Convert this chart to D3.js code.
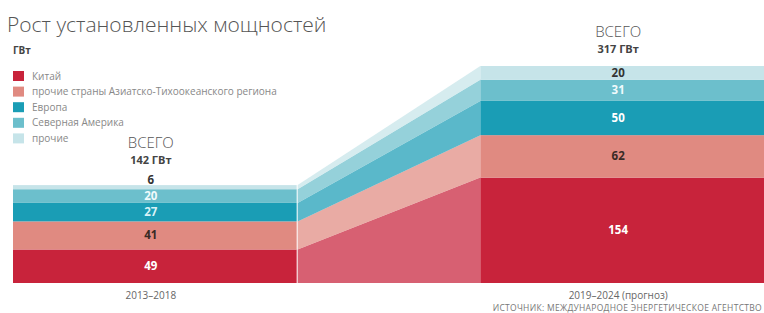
<!DOCTYPE html>
<html><head><meta charset="utf-8">
<script src="https://cdn.jsdelivr.net/npm/d3@7"></script>
<style>body{margin:0;background:#fff;} svg{display:block;font-family:"Open Sans","Noto Sans",sans-serif;}</style>
</head><body>
<script>
const periods = ["2013–2018", "2019–2024 (прогноз)"];
const series = ["Китай", "прочие страны Азиатско-Тихоокеанского региона", "Европа", "Северная Америка", "прочие"];
const values2013 = [49, 41, 27, 20, 6];
const values2019 = [154, 62, 50, 31, 20];
const totals = [142, 317];
const colors = ["#c8233b", "#e08a81", "#1a9db5", "#6cbfcc", "#c6e4e9"];
const labelColors2013 = ["#fff", "#3a2a25", "#d8f2f7", "#f0fafc", "#333"];
const labelColors2019 = ["#fff", "#3a2a25", "#fff", "#f0fafc", "#333"];

const W = 764, H = 313;
const svg = d3.select("body").append("svg").attr("width", W).attr("height", H);

const y = d3.scaleLinear().domain([0, 317]).range([283, 66]);
const x = d3.scaleBand().domain(periods).range([13, 764]).paddingInner(0.393).paddingOuter(0);

const data = periods.map((p, i) => {
  const o = {period: p};
  series.forEach((s, j) => o[s] = (i === 0 ? values2013 : values2019)[j]);
  return o;
});
const stacked = d3.stack().keys(series)(data);

// transition areas
const x0 = x(periods[0]) + x.bandwidth() + 1;
const x1 = x(periods[1]);
stacked.forEach((layer, j) => {
  const pts = [{x: x0, d: layer[0]}, {x: x1, d: layer[1]}];
  svg.append("path")
    .datum(pts)
    .attr("d", d3.area().x(d => d.x).y0(d => y(d.d[0])).y1(d => y(d.d[1])))
    .attr("fill", colors[j]).attr("opacity", 0.72);
});

// bars
stacked.forEach((layer, j) => {
  svg.selectAll(null).data(layer).enter().append("rect")
    .attr("x", d => x(d.data.period))
    .attr("width", x.bandwidth())
    .attr("y", d => y(d[1]))
    .attr("height", d => y(d[0]) - y(d[1]))
    .attr("fill", colors[j]);
});

// value labels
stacked.forEach((layer, j) => {
  layer.forEach((d, i) => {
    const cx = x(d.data.period) + x.bandwidth() / 2 - 4;
    let cy = (y(d[0]) + y(d[1])) / 2;
    const v = d[1] - d[0];
    if (i === 0 && j === 4) cy = y(d[1]) - 5;
    svg.append("text").attr("x", cx).attr("y", cy).attr("dy", "0.35em")
      .attr("text-anchor", "middle").attr("font-size", 11.5).attr("font-weight", 700)
      .attr("fill", (i === 0 ? labelColors2013 : labelColors2019)[j])
      .text(v);
  });
});

// totals
periods.forEach((p, i) => {
  const cx = x(p) + x.bandwidth() / 2 - 4;
  const top = y(totals[i]);
  const off = i === 0 ? 22 : 13;
  svg.append("text").attr("x", cx).attr("y", top - off - 16).attr("text-anchor", "middle")
    .attr("font-size", 15).attr("font-weight", 300).attr("fill", "#555").text("ВСЕГО");
  svg.append("text").attr("x", cx).attr("y", top - off).attr("text-anchor", "middle")
    .attr("font-size", 11).attr("font-weight", 700).attr("fill", "#444").text(totals[i] + " ГВт");
  svg.append("text").attr("x", cx).attr("y", 299).attr("text-anchor", "middle")
    .attr("font-size", 10).attr("fill", "#666").text(p);
});

// title
svg.append("text").attr("x", 7).attr("y", 32).attr("font-size", 21).attr("font-weight", 300)
  .attr("fill", "#555").text("Рост установленных мощностей");
svg.append("text").attr("x", 13).attr("y", 54).attr("font-size", 10).attr("font-weight", 700)
  .attr("fill", "#444").text("ГВт");

// legend
series.forEach((s, j) => {
  const ly = 71 + j * 15.6;
  svg.append("rect").attr("x", 13).attr("y", ly).attr("width", 11).attr("height", 10).attr("fill", colors[j]);
  svg.append("text").attr("x", 32).attr("y", ly + 8.5).attr("font-size", 10).attr("fill", "#888").text(s);
});

svg.append("text").attr("x", 762).attr("y", 311).attr("text-anchor", "end")
  .attr("font-size", 8.5).attr("letter-spacing", 0.3).attr("fill", "#777").text("ИСТОЧНИК: МЕЖДУНАРОДНОЕ ЭНЕРГЕТИЧЕСКОЕ АГЕНТСТВО");
</script>
</body></html>
